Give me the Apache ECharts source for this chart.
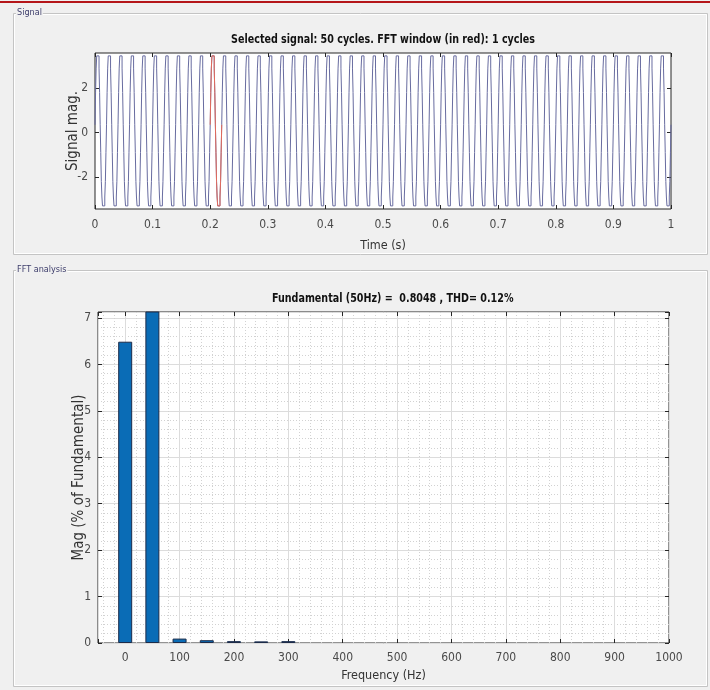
<!DOCTYPE html>
<html>
<head>
<meta charset="utf-8">
<script src="https://cdn.jsdelivr.net/npm/echarts@6/dist/echarts.min.js"></script>
<style>
  html, body { margin: 0; padding: 0; background: #f0f0f0; }
  #chart { width: 710px; height: 690px; }
</style>
</head>
<body>
<div id="chart"></div>
<script>
// ---- Signal panel -------------------------------------------------------
const timeTicks = [0, 0.1, 0.2, 0.3, 0.4, 0.5, 0.6, 0.7, 0.8, 0.9, 1];
const signalTicks = [-2, 0, 2];
const cycleCount = 50;          // cycles in the selected signal
const cyclePeriod = 0.02;       // 50 Hz
// one period of the stepped waveform: where each level starts (fraction of a cycle) and the level held
const stepPhase = [0.00, 0.05, 0.10, 0.15, 0.35, 0.40, 0.45, 0.50, 0.55, 0.60, 0.65, 0.85, 0.90, 0.95];
const stepLevel = [0.35, 1.8, 2.9, 3.45, 2.9, 1.8, 0.35, -0.9, -2.2, -2.9, -3.3, -2.9, -2.2, -0.9];
const fftWindowStart = 0.2;     // s
const fftWindowCycles = 1;

// ---- FFT panel ----------------------------------------------------------
const freqTicks = [0, 100, 200, 300, 400, 500, 600, 700, 800, 900, 1000];
const harmonicFreq = [0, 50, 100, 150, 200, 250, 300];
const harmonicMag = [6.49, 100, 0.095, 0.06, 0.04, 0.035, 0.04];   // % of fundamental

const FONT = "'DejaVu Sans Condensed', 'Liberation Sans', sans-serif";
const AX = '#262626';
const LBL = '#4a4a4a';

// repeat the stored period along the time axis (step series, level held until next point)
function buildSteps(tStart, cycles) {
  const pts = [];
  for (let c = 0; c < cycles; c++) {
    for (let k = 0; k < stepPhase.length; k++) {
      pts.push([tStart + (c + stepPhase[k]) * cyclePeriod, stepLevel[k]]);
    }
  }
  pts.push([tStart + cycles * cyclePeriod, stepLevel[0]]);
  return pts;
}
const signalData = buildSteps(0, cycleCount);
const windowData = buildSteps(fftWindowStart, fftWindowCycles);
const barData = harmonicFreq.map((f, i) => [f, harmonicMag[i]]);

const multipleOf = (v, step) => Math.abs(v / step - Math.round(v / step)) < 1e-6;

const tickInside = { show: true, inside: true, length: 4, lineStyle: { color: AX, width: 1 } };
const noLine = { show: false, onZero: false };
const labelStyle = { color: LBL, fontFamily: FONT, fontSize: 12 };
const nameStyleX = { fontFamily: FONT, fontSize: 12.5, color: '#333' };
const nameStyleY = { fontFamily: FONT, fontSize: 15, color: '#333' };

const option = {
  animation: false,
  backgroundColor: '#f0f0f0',
  grid: [
    { left: 95, top: 53, width: 576, height: 156, show: true, backgroundColor: '#ffffff', borderColor: AX, borderWidth: 1 },
    { left: 98, top: 312, width: 571, height: 331, show: true, backgroundColor: '#ffffff', borderColor: AX, borderWidth: 1 }
  ],
  xAxis: [
    {
      gridIndex: 0, type: 'value', position: 'bottom', min: 0, max: 1, interval: 0.1,
      axisLine: noLine, splitLine: { show: false },
      axisTick: tickInside,
      axisLabel: Object.assign({ margin: 10, formatter: v => String(Math.round(v * 10) / 10) }, labelStyle),
      name: 'Time (s)', nameLocation: 'middle', nameGap: 30, nameMoveOverlap: false,
      nameTextStyle: nameStyleX
    },
    {
      gridIndex: 0, type: 'value', position: 'top', min: 0, max: 1, interval: 0.1,
      axisLine: noLine, splitLine: { show: false },
      axisTick: tickInside, axisLabel: { show: false }
    },
    {
      gridIndex: 1, type: 'value', position: 'bottom', min: -50, max: 1000,
      minInterval: 100, maxInterval: 100,
      axisLine: noLine,
      axisTick: tickInside,
      axisLabel: Object.assign({ margin: 9, formatter: v => (v >= 0 && multipleOf(v, 100)) ? String(v) : '' }, labelStyle),
      splitLine: { show: true, lineStyle: { color: '#dcdcdc', width: 1, type: 'solid' } },
      minorTick: { show: false, splitNumber: 5 },
      minorSplitLine: { show: true, lineStyle: { color: '#d2d2d2', width: 1, type: [1, 2] } },
      name: 'Frequency (Hz)', nameLocation: 'middle', nameGap: 26, nameMoveOverlap: false,
      nameTextStyle: nameStyleX
    },
    {
      gridIndex: 1, type: 'value', position: 'top', min: -50, max: 1000,
      minInterval: 100, maxInterval: 100,
      axisLine: noLine, splitLine: { show: false },
      axisTick: tickInside, axisLabel: { show: false }
    }
  ],
  yAxis: [
    {
      gridIndex: 0, type: 'value', position: 'left', min: -3.44, max: 3.58,
      axisLine: noLine, splitLine: { show: false },
      axisTick: Object.assign({ customValues: signalTicks }, tickInside),
      axisLabel: Object.assign({ margin: 7, customValues: signalTicks }, labelStyle),
      name: 'Signal mag.', nameLocation: 'middle', nameGap: 14, nameRotate: 90, nameMoveOverlap: false,
      nameTextStyle: nameStyleY
    },
    {
      gridIndex: 0, type: 'value', position: 'right', min: -3.44, max: 3.58,
      axisLine: noLine, splitLine: { show: false },
      axisTick: Object.assign({ customValues: signalTicks }, tickInside),
      axisLabel: { show: false }
    },
    {
      gridIndex: 1, type: 'value', position: 'left', min: 0, max: 7.13, interval: 1,
      axisLine: noLine,
      axisTick: tickInside,
      axisLabel: Object.assign({ margin: 7, formatter: v => multipleOf(v, 1) ? String(v) : '' }, labelStyle),
      splitLine: { show: true, lineStyle: { color: '#dcdcdc', width: 1, type: 'solid' } },
      minorTick: { show: false, splitNumber: 5 },
      minorSplitLine: { show: true, lineStyle: { color: '#d2d2d2', width: 1, type: [1, 2] } },
      name: 'Mag (% of Fundamental)', nameLocation: 'middle', nameGap: 11, nameRotate: 90, nameMoveOverlap: false,
      nameTextStyle: nameStyleY
    },
    {
      gridIndex: 1, type: 'value', position: 'right', min: 0, max: 7.13, interval: 1,
      axisLine: noLine, splitLine: { show: false },
      axisTick: tickInside, axisLabel: { show: false }
    }
  ],
  series: [
    {
      name: 'signal', type: 'line', xAxisIndex: 0, yAxisIndex: 0,
      data: signalData, step: 'end', showSymbol: false, symbol: 'none',
      lineStyle: { color: '#686ca0', width: 1 }, z: 2
    },
    {
      name: 'FFT window', type: 'line', xAxisIndex: 0, yAxisIndex: 0,
      data: windowData, step: 'end', showSymbol: false, symbol: 'none',
      lineStyle: { color: '#e36a5c', width: 1 }, z: 3
    },
    {
      name: 'spectrum', type: 'bar', xAxisIndex: 2, yAxisIndex: 2,
      data: barData, barWidth: 14, clip: true,
      itemStyle: { color: '#0a6cb6', borderColor: '#1c2b49', borderWidth: 1 }
    }
  ],
  graphic: [
    { type: 'rect', left: 0, top: 1, shape: { width: 710, height: 2 }, style: { fill: '#b5161a' }, silent: true },
    // "Signal" panel frame
    { type: 'rect', shape: { x: 13.5, y: 13.5, width: 694, height: 241 }, style: { fill: null, stroke: '#c4c4c4', lineWidth: 1 }, silent: true, z: -1 },
    { type: 'rect', shape: { x: 14.5, y: 14.5, width: 692, height: 239 }, style: { fill: null, stroke: '#ffffff', lineWidth: 1 }, silent: true, z: -1 },
    { type: 'text', left: 16, top: 8, style: { text: 'Signal', fontFamily: FONT, fontSize: 9, fill: '#3d3d6b', backgroundColor: '#f0f0f0', padding: [0, 1] }, silent: true },
    // "FFT analysis" panel frame
    { type: 'rect', shape: { x: 13.5, y: 270.5, width: 694, height: 416 }, style: { fill: null, stroke: '#c4c4c4', lineWidth: 1 }, silent: true, z: -1 },
    { type: 'rect', shape: { x: 14.5, y: 271.5, width: 692, height: 414 }, style: { fill: null, stroke: '#ffffff', lineWidth: 1 }, silent: true, z: -1 },
    { type: 'text', left: 16, top: 265, style: { text: 'FFT analysis', fontFamily: FONT, fontSize: 9, fill: '#3d3d6b', backgroundColor: '#f0f0f0', padding: [0, 1] }, silent: true },
    // plot titles (narrow bold face)
    { type: 'text', x: 383, y: 40, scaleX: 0.85, silent: true,
      style: { text: 'Selected signal: 50 cycles. FFT window (in red): 1 cycles', fontFamily: FONT, fontSize: 12.5, fontWeight: 'bold', fill: '#111', align: 'center', verticalAlign: 'middle' } },
    { type: 'text', x: 272, y: 299, scaleX: 0.85, silent: true,
      style: { text: 'Fundamental (50Hz) =  0.8048 , THD= 0.12%', fontFamily: FONT, fontSize: 12.5, fontWeight: 'bold', fill: '#111', align: 'left', verticalAlign: 'middle' } }
  ]
};

const chart = echarts.init(document.getElementById('chart'), null, { renderer: 'canvas' });
chart.setOption(option);
</script>
</body>
</html>
